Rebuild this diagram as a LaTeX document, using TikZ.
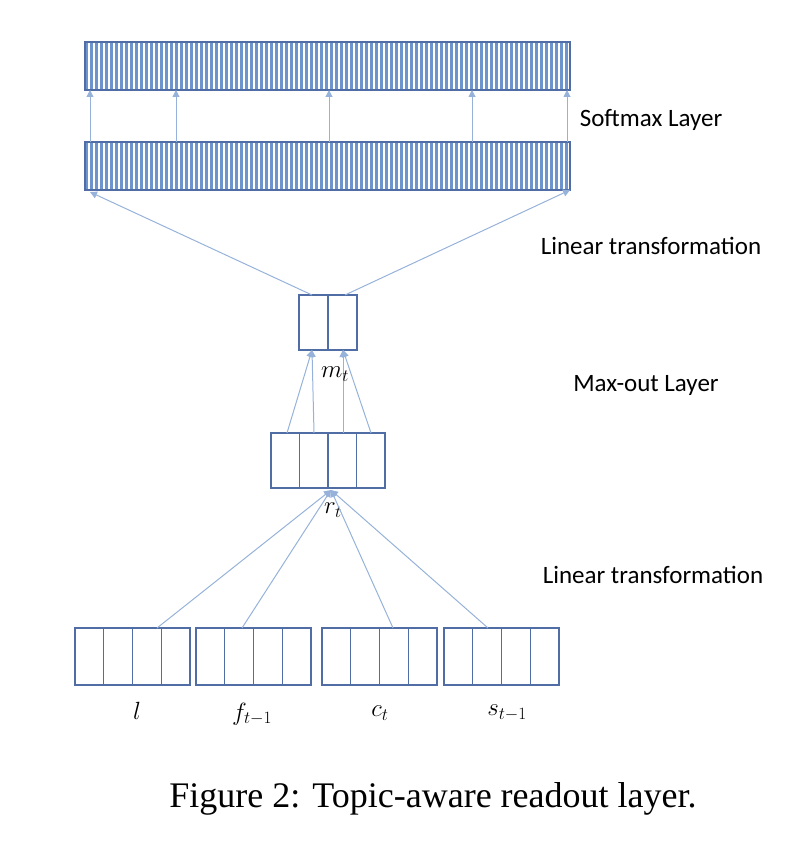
\documentclass[tikz,border=0pt]{standalone}
\usepackage{fontspec}
\setmainfont{Liberation Serif}
\newfontfamily\lbl{Carlito}
\usetikzlibrary{arrows.meta}
\definecolor{bd}{RGB}{80,110,165}
\definecolor{st}{RGB}{110,148,205}
\definecolor{ar}{RGB}{150,178,218}
\begin{document}
\begin{tikzpicture}[x=1pt,y=-1pt,
  box/.style={draw=bd,line width=1.3pt,inner sep=0pt},
  lay/.style={font=\lbl\fontsize{25}{30}\selectfont,anchor=center},
  ml/.style={font=\fontsize{27}{30}\selectfont},
  arr/.style={draw=ar,line width=1pt,-{Triangle[length=7pt,width=7pt]}}]
\useasboundingbox (0,0) rectangle (800,856);
% softmax bars
\foreach \n/\yt in {top/42,bot/142}{
  \fill[st] (85,\yt) rectangle (570,\yt+48);
  \foreach \x in {87.5,92.5,...,568}{\fill[white] (\x,\yt) rectangle (\x+2.2,\yt+48);}
  \node[box,minimum width=485pt,minimum height=48pt] (\n) at (327.5,\yt+24) {};
}
\foreach \x in {90,176,329,472,567}{
  \coordinate (u\x) at (\x,142); \coordinate (v\x) at (\x,90);
  \draw[arr] (u\x) -- (v\x);
}
% m_t
\node[box,minimum width=58pt,minimum height=55pt] (m) at (328,322.5) {};
\draw[bd,line width=1.3pt] (m.north) -- (m.south);
\coordinate (bl) at (90,192); \coordinate (br) at (570,190);
\coordinate (ml) at (312,295); \coordinate (mr) at (345,295);
\draw[arr] (ml) -- (bl);
\draw[arr] (mr) -- (br);
% r_t
\node[box,minimum width=114pt,minimum height=55pt] (r) at (328,460.5) {};
\foreach \x in {299.5,328,356.5}{\draw[bd,line width=1.3pt] (\x,433) -- (\x,488);}
\coordinate (m1) at (312,350); \coordinate (m2) at (343,350);
\coordinate (r1) at (287,433); \coordinate (r2) at (314,433);
\coordinate (r3) at (343,433); \coordinate (r4) at (371,433);
\draw[arr] (r1) -- (m1); \draw[arr] (r2) -- (m1);
\draw[arr] (r3) -- (m2); \draw[arr] (r4) -- (m2);
\node[ml] (mt) at (335,374) {$m_t$};
\node[ml] (rt) at (333,510) {$r_t$};
% bottom vectors
\coordinate (rb) at (331,490);
\foreach \n/\x/\t in {l/75/157,f/196/242,c/322/393,s/444/488}{
  \node[box,minimum width=115pt,minimum height=57pt] (\n) at (\x+57.5,656.5) {};
  \foreach \k in {1,2,3}{\draw[bd,line width=1.3pt] (\x+28.75*\k,628) -- (\x+28.75*\k,685);}
  \coordinate (t\n) at (\t,628);
  \draw[arr] (t\n) -- (rb);
}
\node[ml] (ll) at (137,711) {$l$};
\node[ml] (lf) at (252,714) {$f_{t-1}$};
\node[ml] (lc) at (380,713) {$c_t$};
\node[ml] (ls) at (507,713) {$s_{t-1}$};
% side labels
\node[lay] (t1) at (651,120) {Softmax Layer};
\node[lay] (t2) at (651,246) {Linear transformation};
\node[lay] (t3) at (646,385) {Max-out Layer};
\node[lay] (t4) at (653,575) {Linear transformation};
\node[font=\fontsize{36}{40}\selectfont] (cap) at (433,799) {Figure 2: Topic-aware readout layer.};
\end{tikzpicture}
\end{document}
